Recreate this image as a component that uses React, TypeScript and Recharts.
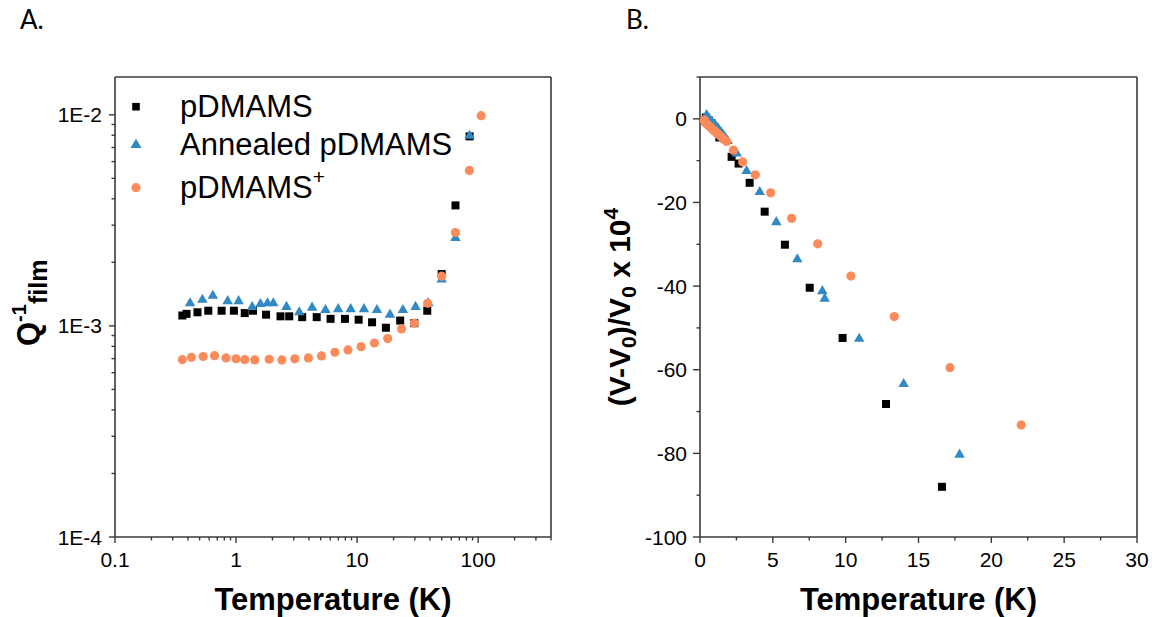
import React from 'react';
import { ScatterChart, Scatter, XAxis, YAxis, Legend, Label, ReferenceLine } from 'recharts';

// ---------- Panel A data (log-log) ----------
const aBlackT = [0.36, 0.39, 0.48, 0.59, 0.76, 0.96, 1.18, 1.38, 1.77, 2.33, 2.75, 3.52, 4.64, 6.04, 7.94, 10.3, 13.3, 17.3, 22.7, 29.7, 38, 50, 65, 85];
const aBlackQ = [1.12e-3, 1.14e-3, 1.16e-3, 1.18e-3, 1.18e-3, 1.18e-3, 1.15e-3, 1.18e-3, 1.13e-3, 1.11e-3, 1.11e-3, 1.1e-3, 1.1e-3, 1.08e-3, 1.08e-3, 1.07e-3, 1.04e-3, 0.98e-3, 1.06e-3, 1.03e-3, 1.18e-3, 1.76e-3, 3.72e-3, 7.9e-3];
const aBlueT = [0.417, 0.527, 0.643, 0.853, 1.05, 1.36, 1.59, 1.82, 2.03, 2.61, 3.33, 4.25, 5.48, 6.98, 8.85, 11.4, 14.6, 18.7, 23.9, 30.4, 38.8, 50, 65, 85];
const aBlueQ = [1.28e-3, 1.33e-3, 1.39e-3, 1.31e-3, 1.31e-3, 1.23e-3, 1.27e-3, 1.28e-3, 1.28e-3, 1.23e-3, 1.16e-3, 1.22e-3, 1.19e-3, 1.2e-3, 1.2e-3, 1.2e-3, 1.19e-3, 1.13e-3, 1.19e-3, 1.23e-3, 1.28e-3, 1.66e-3, 2.61e-3, 7.95e-3];
const aOrangeT = [0.36, 0.428, 0.535, 0.664, 0.826, 1.0, 1.18, 1.43, 1.88, 2.39, 3.06, 3.96, 5.08, 6.56, 8.41, 10.8, 13.9, 17.9, 23.3, 29.7, 38.3, 50, 65, 84.7, 106];
const aOrangeQ = [6.92e-4, 7.1e-4, 7.16e-4, 7.23e-4, 7.05e-4, 6.98e-4, 6.92e-4, 6.9e-4, 6.95e-4, 6.9e-4, 6.98e-4, 7.05e-4, 7.21e-4, 7.5e-4, 7.69e-4, 7.97e-4, 8.3e-4, 8.71e-4, 9.68e-4, 1.03e-3, 1.28e-3, 1.72e-3, 2.77e-3, 5.45e-3, 9.9e-3];

const aXTicks = [0.1, 0.2, 0.3, 0.4, 0.5, 0.6, 0.7, 0.8, 0.9, 1, 2, 3, 4, 5, 6, 7, 8, 9, 10, 20, 30, 40, 50, 60, 70, 80, 90, 100, 200, 300, 400];
const aYTicks = [1e-4, 2e-4, 3e-4, 4e-4, 5e-4, 6e-4, 7e-4, 8e-4, 9e-4, 1e-3, 2e-3, 3e-3, 4e-3, 5e-3, 6e-3, 7e-3, 8e-3, 9e-3, 1e-2];

// ---------- Panel B data ----------
const bBlackT = [0.4, 0.6, 0.8, 1.0, 1.33, 2.17, 2.65, 3.41, 4.44, 5.83, 7.53, 9.79, 12.77, 16.61];
const bBlackV = [0.3, -0.4, -1.1, -2.0, -4.46, -9.09, -10.7, -15.3, -22.2, -30.1, -40.4, -52.4, -68.2, -88.0];
const bBlueT = [0.45, 0.55, 0.7, 0.85, 1.0, 1.15, 1.3, 1.45, 1.6, 1.75, 1.9, 2.52, 3.2, 4.1, 5.24, 6.68, 8.4, 8.56, 10.93, 13.98, 17.82];
const bBlueV = [0.9, 0.1, -0.4, -0.9, -1.4, -2.0, -2.6, -3.2, -3.9, -4.6, -5.3, -8.3, -12.5, -17.5, -24.7, -33.6, -41.2, -43.0, -52.6, -63.4, -80.3];
const bOrangeT = [0.3, 0.35, 0.45, 0.55, 0.65, 0.75, 0.85, 0.95, 1.05, 1.15, 1.3, 1.45, 1.6, 1.83, 2.29, 2.93, 3.8, 4.85, 6.29, 8.08, 10.36, 13.34, 17.16, 22.05];
const bOrangeV = [-0.3, -0.9, -1.2, -1.5, -1.8, -2.1, -2.5, -2.8, -3.1, -3.4, -3.8, -4.3, -4.8, -5.4, -7.5, -10.3, -13.4, -17.7, -23.8, -29.9, -37.6, -47.3, -59.5, -73.2];

const bXTicks = [0, 2.5, 5, 7.5, 10, 12.5, 15, 17.5, 20, 22.5, 25, 27.5, 30];
const bYTicks = [-100, -90, -80, -70, -60, -50, -40, -30, -20, -10, 0, 10];

const seriesNames = ['pDMAMS', 'Annealed pDMAMS', 'pDMAMS'];

// ---------- styles ----------
const FONT = '"Liberation Sans", Arial, sans-serif';
const AX = '#3a3a3a';
const BLACK = '#000000';
const BLUE = '#3389c4';
const ORANGE = '#fb8b5a';

const zip = (xs: number[], ys: number[]) => xs.map((x, i) => ({ x, y: ys[i] }));

const Square = (p: any) => <rect x={p.cx - 4} y={p.cy - 4} width={8} height={8} fill={BLACK} />;
const Tri = (p: any) => {
  const s = 10.5;
  const h = s * 0.866;
  return <polygon points={`${p.cx},${p.cy - (2 * h) / 3} ${p.cx - s / 2},${p.cy + h / 3} ${p.cx + s / 2},${p.cy + h / 3}`} fill={BLUE} />;
};
const Circ = (p: any) => <circle cx={p.cx} cy={p.cy} r={4.6} fill={ORANGE} />;

const isDecade = (v: number) => Math.abs(Math.log10(v) - Math.round(Math.log10(v))) < 1e-6;

const LogXTick = (p: any) => {
  const v = p.payload.value;
  const major = isDecade(v);
  return (
    <g>
      <line x1={p.x} x2={p.x} y1={p.y} y2={p.y + (major ? 6 : 3.5)} stroke={AX} strokeWidth={1.4} />
      {major && (
        <text x={p.x} y={p.y + 30} textAnchor="middle" fontSize={21} fontFamily={FONT} fill="#000">
          {String(v)}
        </text>
      )}
    </g>
  );
};
const LogYTick = (p: any) => {
  const v = p.payload.value;
  const major = isDecade(v);
  return (
    <g>
      <line x1={p.x - (major ? 6 : 3.5)} x2={p.x} y1={p.y} y2={p.y} stroke={AX} strokeWidth={1.4} />
      {major && (
        <text x={p.x - 13} y={p.y + 7.5} textAnchor="end" fontSize={21} fontFamily={FONT} fill="#000">
          {`1E${Math.round(Math.log10(v))}`}
        </text>
      )}
    </g>
  );
};
const LinXTick = (p: any) => {
  const v = p.payload.value;
  const major = v % 5 === 0;
  return (
    <g>
      <line x1={p.x} x2={p.x} y1={p.y} y2={p.y + (major ? 6 : 3.5)} stroke={AX} strokeWidth={1.4} />
      {major && (
        <text x={p.x} y={p.y + 30} textAnchor="middle" fontSize={21} fontFamily={FONT} fill="#000">
          {String(v)}
        </text>
      )}
    </g>
  );
};
const LinYTick = (p: any) => {
  const v = p.payload.value;
  const major = v % 20 === 0;
  return (
    <g>
      <line x1={p.x - (major ? 7 : 3.5)} x2={p.x} y1={p.y} y2={p.y} stroke={AX} strokeWidth={1.4} />
      {major && (
        <text x={p.x - 13} y={p.y + 7.5} textAnchor="end" fontSize={21} fontFamily={FONT} fill="#000">
          {String(v)}
        </text>
      )}
    </g>
  );
};

const XTitle = (props: any) => {
  const vb = props.viewBox || {};
  return (
    <text x={vb.x + vb.width / 2} y={vb.y + 73} textAnchor="middle" fontSize={31} fontWeight="bold" fontFamily={FONT} fill="#000">
      Temperature (K)
    </text>
  );
};

const QTitle = (props: any) => {
  const vb = props.viewBox || {};
  const cx = vb.x + vb.width - 76;
  const cy = vb.y + vb.height / 2 + 39;
  return (
    <text x={cx} y={cy} transform={`rotate(-90, ${cx}, ${cy})`} textAnchor="start" fontWeight="bold" fontFamily={FONT} fill="#000">
      <tspan fontSize={31}>Q</tspan>
      <tspan fontSize={20} dy={-13}>-1</tspan>
      <tspan fontSize={25} dy={21}>film</tspan>
    </text>
  );
};

const VTitle = (props: any) => {
  const vb = props.viewBox || {};
  const cx = vb.x + vb.width - 70;
  const cy = vb.y + vb.height / 2;
  return (
    <text x={cx} y={cy} transform={`rotate(-90, ${cx}, ${cy})`} textAnchor="middle" fontWeight="bold" fontFamily={FONT} fill="#000">
      <tspan fontSize={30}>(V-V</tspan>
      <tspan fontSize={21} dy={6}>0</tspan>
      <tspan fontSize={30} dy={-6}>)/V</tspan>
      <tspan fontSize={21} dy={6}>0</tspan>
      <tspan fontSize={30} dy={-6}> x 10</tspan>
      <tspan fontSize={21} dy={-12}>4</tspan>
    </text>
  );
};

const LegendA = () => (
  <svg width={420} height={130} style={{ display: 'block' }}>
    <rect x={12.2} y={22.9} width={7.6} height={7.6} fill={BLACK} />
    <polygon points="16,58.5 10.5,68 21.5,68" fill={BLUE} />
    <circle cx={16} cy={107.7} r={4.6} fill={ORANGE} />
    <text x={60} y={37} fontSize={31} fontFamily={FONT} fill="#000">{seriesNames[0]}</text>
    <text x={60} y={74.5} fontSize={31} fontFamily={FONT} fill="#000">{seriesNames[1]}</text>
    <text x={60} y={117.5} fontSize={31} fontFamily={FONT} fill="#000">
      {seriesNames[2]}
      <tspan fontSize={21} dy={-14}>+</tspan>
    </text>
  </svg>
);

export default function App() {
  const W = 576;
  const H = 617;
  return (
    <div style={{ position: 'absolute', left: 0, top: 0, width: 1152, height: 617, background: '#fff' }}>
      <div style={{ position: 'absolute', left: 20, top: 3, fontFamily: 'Lato, "Open Sans", sans-serif', fontSize: 26, color: '#000' }}>A.</div>
      <div style={{ position: 'absolute', left: 626, top: 3, fontFamily: 'Lato, "Open Sans", sans-serif', fontSize: 26, color: '#000' }}>B.</div>

      <div style={{ position: 'absolute', left: 0, top: 0 }}>
        <ScatterChart width={W} height={H} margin={{ top: 77, right: 25, bottom: 50, left: 55 }}>
          <XAxis type="number" dataKey="x" scale="log" domain={[0.1, 400]} allowDataOverflow ticks={aXTicks} interval={0}
            tick={<LogXTick />} tickLine={false} tickSize={0} tickMargin={0} axisLine={{ stroke: AX, strokeWidth: 1.6 }} height={30}>
            <Label content={<XTitle />} />
          </XAxis>
          <YAxis type="number" dataKey="y" scale="log" domain={[1e-4, 0.0151]} allowDataOverflow ticks={aYTicks} interval={0}
            tick={<LogYTick />} tickLine={false} tickSize={0} tickMargin={0} axisLine={{ stroke: AX, strokeWidth: 1.6 }} width={60}>
            <Label content={<QTitle />} />
          </YAxis>
          <ReferenceLine y={0.0151} stroke={AX} strokeWidth={1.6} />
          <ReferenceLine x={400} stroke={AX} strokeWidth={1.6} />
          <Legend layout="vertical" align="center" verticalAlign="middle" content={<LegendA />}
            wrapperStyle={{ position: 'absolute', left: 120, top: 80, width: 420, height: 130 }} />
          <Scatter name="pDMAMS" data={zip(aBlackT, aBlackQ)} shape={<Square />} isAnimationActive={false} />
          <Scatter name="Annealed pDMAMS" data={zip(aBlueT, aBlueQ)} shape={<Tri />} isAnimationActive={false} />
          <Scatter name="pDMAMS+" data={zip(aOrangeT, aOrangeQ)} shape={<Circ />} isAnimationActive={false} />
        </ScatterChart>
      </div>

      <div style={{ position: 'absolute', left: 576, top: 0 }}>
        <ScatterChart width={W} height={H} margin={{ top: 77, right: 15, bottom: 50, left: 64 }}>
          <XAxis type="number" dataKey="x" domain={[0, 30]} allowDataOverflow ticks={bXTicks} interval={0}
            tick={<LinXTick />} tickLine={false} tickSize={0} tickMargin={0} axisLine={{ stroke: AX, strokeWidth: 1.6 }} height={30}>
            <Label content={<XTitle />} />
          </XAxis>
          <YAxis type="number" dataKey="y" domain={[-100, 10]} allowDataOverflow ticks={bYTicks} interval={0}
            tick={<LinYTick />} tickLine={false} tickSize={0} tickMargin={0} axisLine={{ stroke: AX, strokeWidth: 1.6 }} width={60}>
            <Label content={<VTitle />} />
          </YAxis>
          <ReferenceLine y={10} stroke={AX} strokeWidth={1.6} />
          <ReferenceLine x={30} stroke={AX} strokeWidth={1.6} />
          <Scatter name="pDMAMS" data={zip(bBlackT, bBlackV)} shape={<Square />} isAnimationActive={false} />
          <Scatter name="Annealed pDMAMS" data={zip(bBlueT, bBlueV)} shape={<Tri />} isAnimationActive={false} />
          <Scatter name="pDMAMS+" data={zip(bOrangeT, bOrangeV)} shape={<Circ />} isAnimationActive={false} />
        </ScatterChart>
      </div>
    </div>
  );
}
